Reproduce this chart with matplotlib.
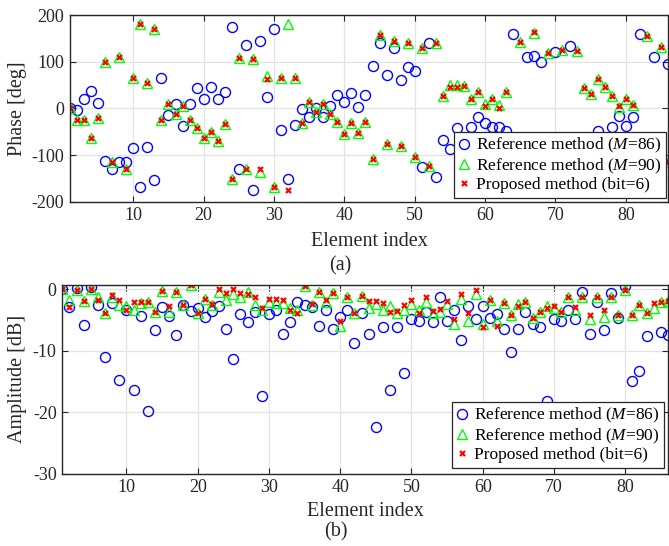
import numpy as np
import matplotlib
matplotlib.use("Agg")
import matplotlib.pyplot as plt

plt.rcParams["font.family"] = ["Liberation Serif", "DejaVu Serif"]
plt.rcParams["mathtext.fontset"] = "custom"
plt.rcParams["mathtext.rm"] = "Liberation Serif"
plt.rcParams["mathtext.it"] = "Liberation Serif:italic"
plt.rcParams["axes.unicode_minus"] = False

element = np.arange(1, 87)

# phase [deg]
phase_m86 = [0, -4, 19, 37, 12, -112, -129, -116, -116, -84,
             -168, -82, -154, 66, -14, 9, -37, 9, 43, 21,
             45, 21, 36, 174, -131, 136, -175, 145, 24, 171,
             -46, -151, -36, -1, -18, 0, -18, 6, 29, 14,
             32, 3, 29, 91, 141, 71, 129, 61, 89, 79,
             -126, 139, -147, -67, -88, -43, -73, -41, -19, -31,
             -39, -39, -48, 159, -120, 111, 112, 99, -150, 120,
             -100, 134, -130, -90, -70, -49, -80, -41, -16, -37,
             -19, 160, -165, 111, -149, 96]
phase_m90 = [0, -25, -25, -64, -21, 100, -116, 109, -129, 64,
             181, 54, 169, -24, 9, -13, 4, -24, -43, -64,
             -50, -70, -34, -151, 107, -130, 106, -136, 70, -168,
             66, 181, 64, -32, 14, -7, 9, -13, -29, -56,
             -31, -52, -29, -109, 157, -77, 145, -80, 139, -104,
             129, -124, 139, 26, 51, 50, 48, 20, 36, 9,
             21, 7, 34, -170, 143, -140, 161, -150, 119, -130,
             125, -120, 123, 43, 31, 63, 46, 26, 2, 20,
             7, -160, 155, -140, 132, -114]
phase_prop = [0, -25, -25, -64, -21, 100, -116, 109, -129, 64,
              181, 54, 169, -24, 9, -13, 4, -24, -43, -64,
              -50, -70, -34, -151, 107, -130, 106, -131, 63, -168,
              66, -175, 64, -32, 14, -7, 9, -13, -29, -56,
              -31, -52, -29, -109, 157, -77, 145, -80, 139, -104,
              129, -124, 139, 26, 46, 46, 48, 20, 36, 5,
              21, 0, 34, -170, 143, -140, 164, -150, 119, -130,
              125, -120, 123, 43, 31, 63, 46, 26, 6, 20,
              7, -160, 155, -140, 132, -114]

# amplitude [dB]
amp_m86 = [0, -2.85, 0.2, -5.8, 0.4, -2.6, -11.0, -2.3, -14.8, -3.4,
           -16.4, -4.3, -19.9, -6.6, -2.85, -4.4, -7.5, -2.6, -3.5, -3.1,
           -4.5, -3.5, -2.7, -6.4, -11.4, -4.05, -5.3, -3.7, -17.3, -4.1,
           -3.4, -7.2, -5.3, -2.1, -2.5, -2.85, -6.0, -3.4, -6.4, -4.5,
           -3.4, -8.7, -3.8, -7.2, -22.4, -6.1, -16.4, -6.1, -13.7, -4.9,
           -5.1, -3.7, -5.3, -1.3, -5.2, -3.4, -8.3, -2.7, -4.9, -2.7,
           -4.6, -4.0, -6.4, -10.2, -6.4, -3.7, -5.7, -6.1, -18.2, -4.8,
           -5.2, -3.4, -4.9, -0.5, -7.2, -2.0, -6.7, -0.6, -4.6, 0.6,
           -14.9, -13.3, -7.6, -22.0, -7.0, -7.4]
amp_m90 = [0, -1.7, -0.1, -1.9, 0, -1.3, -3.9, -1.2, -2.6, -2.7,
           -3.4, -2.2, -2.0, -3.7, -0.3, -3.7, -0.5, -2.6, 0.7, -3.9,
           -1.6, -2.6, -0.4, -1.8, -0.8, -1.2, -0.5, -2.5, -3.4, -2.0,
           -2.2, -2.3, -3.0, -3.3, 0.6, -2.6, -0.4, -2.0, -0.6, -6.0,
           -1.2, -3.8, -1.1, -3.0, -2.4, -3.4, -2.7, -3.9, -3.3, -2.4,
           -3.4, -2.0, -3.9, -3.7, -2.4, -5.6, -1.5, -5.1, -0.8, -5.6,
           -1.8, -5.1, -2.3, -4.2, -2.4, -2.0, -4.6, -3.7, -2.7, -3.1,
           -3.7, -1.3, -3.4, -1.2, -4.8, -1.2, -4.5, -1.2, -4.2, -0.1,
           -4.2, -2.6, -3.9, -3.0, -2.0, -1.9]
amp_prop = [0, -2.85, -0.1, -1.9, 0, -1.8, -3.9, -1.0, -1.8, -3.4,
            -2.0, -2.0, -2.0, -3.7, -0.3, -2.7, -0.5, -2.6, 0.7, -3.9,
            -1.6, -2.4, 0.1, -0.6, 0.1, -0.6, -0.7, -1.3, -3.1, -1.5,
            -1.6, -1.8, -3.4, -3.9, 0.6, -2.4, -0.4, -1.7, -0.6, -5.1,
            -1.2, -3.8, -1.1, -1.9, -1.9, -2.3, -3.7, -3.5, -2.6, -1.8,
            -3.8, -1.2, -3.5, -3.2, -1.9, -4.9, -0.8, -3.8, -0.1, -6.1,
            -1.8, -6.0, -2.3, -4.2, -2.7, -2.0, -4.6, -3.7, -3.1, -2.7,
            -3.7, -1.3, -2.9, -1.2, -4.2, -1.2, -3.4, -1.2, -4.2, -0.1,
            -4.2, -2.6, -3.9, -2.2, -2.0, -1.9]

labels = [r"Reference method ($\mathit{M}$=$\mathit{86}$)",
          r"Reference method ($\mathit{M}$=$\mathit{90}$)",
          "Proposed method (bit=6)"]

W, H = 669, 546
fig = plt.figure(figsize=(W / 100, H / 100), dpi=100)
ax1 = fig.add_axes([70 / W, 1 - 201.7 / H, 598 / W, 186.7 / H])
ax2 = fig.add_axes([62.3 / W, 1 - 473.5 / H, 605.7 / W, 188.5 / H])


def draw(ax, y1, y2, y3):
    ax.plot(element, y1, "o", ls="none", mfc="none", mec="#0000ff", ms=7.2, mew=1.0, label=labels[0])
    ax.plot(element, y2, "^", ls="none", mfc="none", mec="#00ff00", ms=6.8, mew=1.0, label=labels[1])
    ax.plot(element, y3, "x", ls="none", color="#ff0000", ms=3.6, mew=1.6, label=labels[2])
    ax.set_xlim(1, 86)
    ax.set_xticks(np.arange(10, 81, 10))
    ax.grid(True, color="#e3e3e3", lw=0.9)
    ax.set_axisbelow(True)
    ax.tick_params(direction="in", length=4, width=0.8, labelsize=13, top=True, right=True,
                   color="#262626", labelcolor="#262626", pad=4)
    for s in ax.spines.values():
        s.set_color("#262626")
        s.set_linewidth(1.0)
    ax.set_xlabel("Element index", fontsize=14.5, color="#262626")
    ax.xaxis.label.set_va("center")


def add_legend(ax, x0, y0):
    leg = ax.legend(loc="upper left", bbox_to_anchor=(x0, y0), fontsize=12.5,
                    handlelength=0.7, handletextpad=0.35, borderpad=0.25, labelspacing=0.08,
                    borderaxespad=0, fancybox=False, framealpha=1, edgecolor="#262626")
    leg.get_frame().set_linewidth(0.9)
    return leg


draw(ax1, phase_m86, phase_m90, phase_prop)
ax1.set_ylim(-200, 200)
ax1.set_yticks([-200, -100, 0, 100, 200])
ax1.set_ylabel("Phase [deg]", fontsize=14.5, color="#262626")
ax1.yaxis.label.set_va("center")
ax1.yaxis.set_label_coords((18 - 70) / 598, 0.5)
ax1.xaxis.set_label_coords(0.5, (201.7 - 242) / 186.7)
add_legend(ax1, 0.642, 0.375)

draw(ax2, amp_m86, amp_m90, amp_prop)
ax2.set_ylim(-30, 0.7)
ax2.set_yticks([-30, -20, -10, 0])
ax2.set_ylabel("Amplitude [dB]", fontsize=14.5, color="#262626")
ax2.yaxis.label.set_va("center")
ax2.yaxis.set_label_coords((18 - 62.3) / 605.7, 0.5)
ax2.xaxis.set_label_coords(0.5, (473.5 - 512) / 188.5)
add_legend(ax2, 0.643, 0.381)

fig.text(340 / W, 1 - 266 / H, "(a)", ha="center", va="center", fontsize=14.5, color="#262626")
fig.text(336 / W, 1 - 532 / H, "(b)", ha="center", va="center", fontsize=14.5, color="#262626")

fig.savefig("out.png", dpi=100)
